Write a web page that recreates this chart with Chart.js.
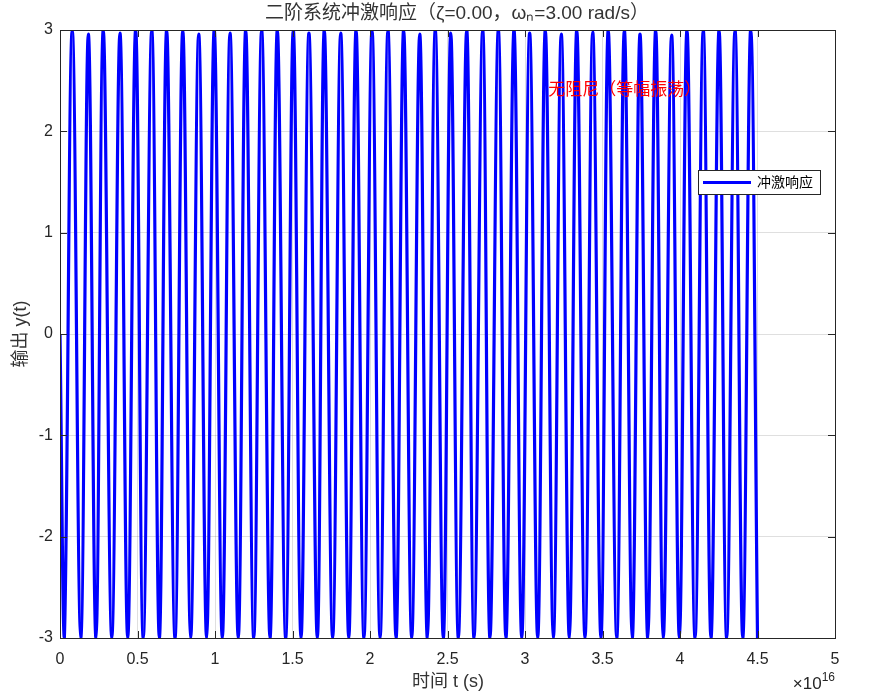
<!DOCTYPE html>
<html>
<head>
<meta charset="utf-8">
<script src="https://cdn.jsdelivr.net/npm/chart.js@4"></script>
<style>
  html, body { margin: 0; padding: 0; background: #ffffff; }
  canvas { display: block; }
</style>
</head>
<body>
<canvas id="impulseChart" width="872" height="700"></canvas>
<script>
// time axis values are in units of 1e16 s (see the x10^16 label)
const timeValues = [0,
  0.028, 0.079, 0.134, 0.183, 0.232, 0.279, 0.334, 0.387, 0.437, 0.488,
  0.537, 0.592, 0.641, 0.688, 0.742, 0.792, 0.843, 0.895, 0.946, 0.995,
  1.047, 1.097, 1.150, 1.198, 1.250, 1.301, 1.355, 1.402, 1.456, 1.505,
  1.555, 1.606, 1.660, 1.705, 1.759, 1.811, 1.863, 1.910, 1.961, 2.013,
  2.065, 2.116, 2.168, 2.217, 2.269, 2.321, 2.370, 2.421, 2.473, 2.521,
  2.570, 2.624, 2.671, 2.727, 2.774, 2.828, 2.877, 2.929, 2.979, 3.030,
  3.082, 3.131, 3.183, 3.234, 3.286, 3.334, 3.387, 3.437, 3.490, 3.537,
  3.592, 3.641, 3.692, 3.742, 3.792, 3.843, 3.892, 3.946, 3.996, 4.045,
  4.097, 4.150, 4.200, 4.252, 4.301, 4.355, 4.405, 4.456, 4.500
];
const outputValues = [0,
  -3, 3, -3, 2.96, -3, 3, -3, 2.97, -3, 3,
  -3, 3, -3, 3, -3, 3, -3, 2.96, -3, 3,
  -3, 2.97, -3, 3, -3, 3, -3, 3, -3, 3,
  -3, 2.97, -3, 3, -3, 2.97, -3, 3, -3, 3,
  -3, 3, -3, 3, -3, 2.96, -3, 3, -3, 2.97,
  -3, 3, -3, 3, -3, 3, -3, 3, -3, 2.97,
  -3, 3, -3, 2.96, -3, 3, -3, 2.98, -3, 3,
  -3, 3, -3, 2.96, -3, 3, -3, 2.95, -3, 3,
  -3, 3, -3, 3, -3, 3, -3, 3, -3
];

const xTickValues = [0, 0.5, 1, 1.5, 2, 2.5, 3, 3.5, 4, 4.5, 5];
const xTickLabels = ['0', '0.5', '1', '1.5', '2', '2.5', '3', '3.5', '4', '4.5', '5'];
const yTickValues = [-3, -2, -1, 0, 1, 2, 3];
const yTickLabels = ['-3', '-2', '-1', '0', '1', '2', '3'];

const seriesLabel = '冲激响应';
const titleText = '二阶系统冲激响应（ζ=0.00，ωₙ=3.00 rad/s）';
const xTitle = '时间 t (s)';
const yTitle = '输出 y(t)';
const noteText = '无阻尼（等幅振荡）';
const notePos = { x: 3.15, y: 2.4 };

const axisColor = '#262626';
const latinFont = "'Liberation Sans', Arial, 'Noto Sans CJK SC', sans-serif";
const cjkFont = "'Liberation Sans', 'Noto Sans CJK SC', sans-serif";

// MATLAB style box, inner ticks, texts and legend
const matlabAxes = {
  id: 'matlabAxes',
  afterDraw(chart) {
    const ctx = chart.ctx;
    const a = chart.chartArea;
    const xs = chart.scales.x;
    const ys = chart.scales.y;
    ctx.save();

    // box
    ctx.strokeStyle = axisColor;
    ctx.lineWidth = 1;
    ctx.strokeRect(Math.round(a.left) + 0.5, Math.round(a.top) + 0.5,
      Math.round(a.right - a.left), Math.round(a.bottom - a.top));

    // inner ticks
    ctx.beginPath();
    xTickValues.forEach(v => {
      const px = Math.round(xs.getPixelForValue(v)) + 0.5;
      ctx.moveTo(px, a.bottom); ctx.lineTo(px, a.bottom - 7);
      ctx.moveTo(px, a.top); ctx.lineTo(px, a.top + 7);
    });
    yTickValues.forEach(v => {
      const py = Math.round(ys.getPixelForValue(v)) + 0.5;
      ctx.moveTo(a.left, py); ctx.lineTo(a.left + 7, py);
      ctx.moveTo(a.right, py); ctx.lineTo(a.right - 7, py);
    });
    ctx.stroke();

    // title
    ctx.fillStyle = '#333333';
    ctx.textAlign = 'center';
    ctx.textBaseline = 'middle';
    ctx.font = '19px ' + cjkFont;
    ctx.fillText(titleText, 457, 14);

    // axis titles
    ctx.font = '18px ' + cjkFont;
    ctx.fillText(xTitle, 448, 682);
    ctx.save();
    ctx.translate(21, 334);
    ctx.rotate(-Math.PI / 2);
    ctx.fillText(yTitle, 0, 0);
    ctx.restore();

    // exponent label
    ctx.fillStyle = axisColor;
    ctx.textAlign = 'right';
    ctx.textBaseline = 'alphabetic';
    ctx.font = '12px ' + latinFont;
    ctx.fillText('16', a.right, 681);
    const supW = ctx.measureText('16').width;
    ctx.font = '17px ' + latinFont;
    ctx.fillText('×10', a.right - supW, 689);

    // red note in data coordinates
    ctx.fillStyle = '#ff0000';
    ctx.textAlign = 'left';
    ctx.textBaseline = 'middle';
    ctx.font = '17px ' + cjkFont;
    ctx.fillText(noteText, xs.getPixelForValue(notePos.x), ys.getPixelForValue(notePos.y));

    // legend
    const ds = chart.data.datasets[0];
    const lx = 698, ly = 170, lw = 122, lh = 24;
    ctx.fillStyle = '#ffffff';
    ctx.fillRect(lx, ly, lw, lh);
    ctx.strokeStyle = axisColor;
    ctx.lineWidth = 1;
    ctx.strokeRect(lx + 0.5, ly + 0.5, lw, lh);
    ctx.strokeStyle = ds.borderColor;
    ctx.lineWidth = ds.borderWidth;
    ctx.beginPath();
    ctx.moveTo(lx + 5, ly + lh / 2 + 0.5);
    ctx.lineTo(lx + 53, ly + lh / 2 + 0.5);
    ctx.stroke();
    ctx.fillStyle = '#000000';
    ctx.font = '14px ' + cjkFont;
    ctx.fillText(ds.label, lx + 59, ly + lh / 2 + 1);

    ctx.restore();
  }
};

const points = timeValues.map((t, i) => ({ x: t, y: outputValues[i] }));

new Chart(document.getElementById('impulseChart'), {
  type: 'line',
  data: {
    datasets: [{
      label: seriesLabel,
      data: points,
      borderColor: '#0000ff',
      backgroundColor: '#0000ff',
      borderWidth: 3.2,
      pointRadius: 0,
      fill: false,
      tension: 0.4
    }]
  },
  options: {
    responsive: false,
    animation: false,
    layout: { padding: { top: 30, right: 37, left: 0, bottom: 0 } },
    plugins: {
      legend: { display: false },
      title: { display: false },
      tooltip: { enabled: false }
    },
    scales: {
      x: {
        type: 'linear',
        min: 0,
        max: 5,
        afterFit: s => { s.height = 62; },
        afterBuildTicks: s => { s.ticks = xTickValues.map(v => ({ value: v })); },
        grid: { color: 'rgba(38,38,38,0.15)', drawTicks: false },
        border: { display: false },
        ticks: {
          padding: 12,
          color: axisColor,
          font: { family: latinFont, size: 16 },
          maxRotation: 0,
          autoSkip: false,
          callback: (v, i) => xTickLabels[i]
        }
      },
      y: {
        type: 'linear',
        min: -3,
        max: 3,
        afterFit: s => { s.width = 60; },
        afterBuildTicks: s => { s.ticks = yTickValues.map(v => ({ value: v })); },
        grid: { color: 'rgba(38,38,38,0.15)', drawTicks: false },
        border: { display: false },
        ticks: {
          padding: 7,
          color: axisColor,
          font: { family: latinFont, size: 16 },
          autoSkip: false,
          callback: (v, i) => yTickLabels[i]
        }
      }
    }
  },
  plugins: [matlabAxes]
});
</script>
</body>
</html>
